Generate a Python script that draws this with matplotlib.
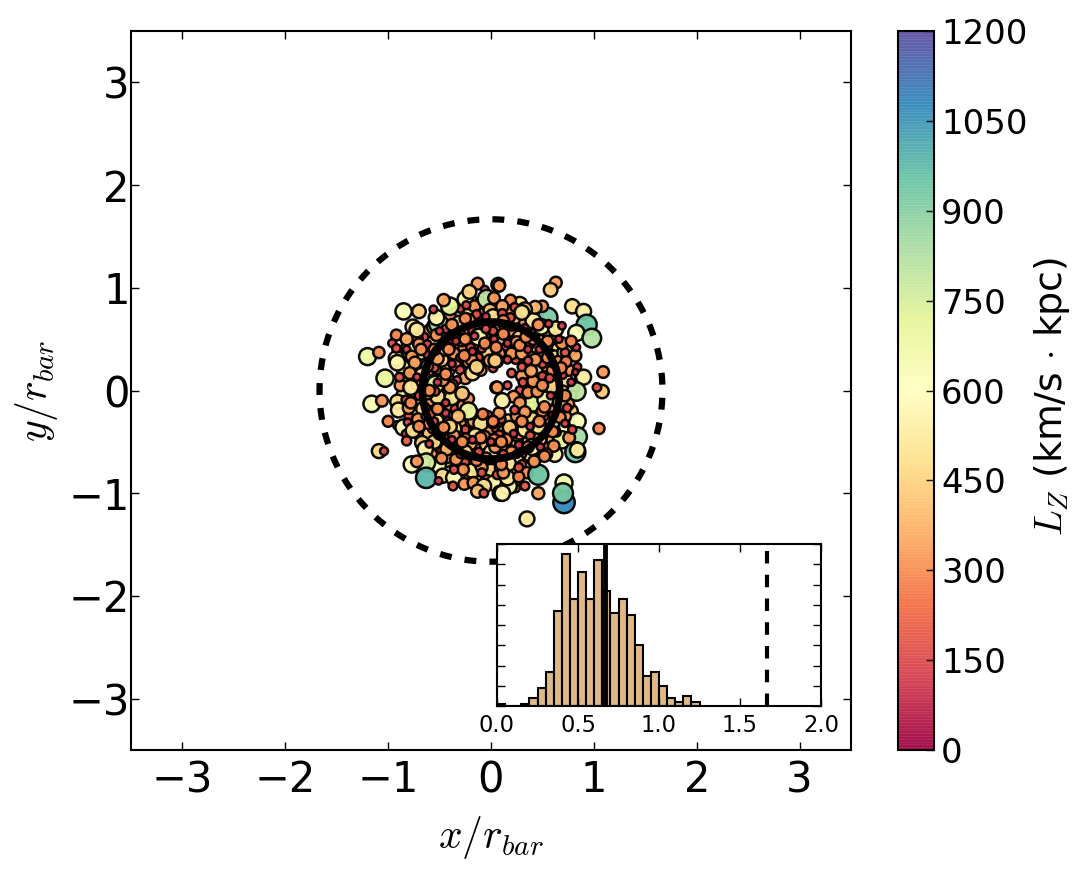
import numpy as np
import matplotlib
matplotlib.use('Agg')
from matplotlib import pyplot as plt

plt.rcParams['font.family'] = 'DejaVu Sans'
plt.rcParams['mathtext.fontset'] = 'cm'

# orbit positions in units of the bar radius, with angular momentum
x_pos = [
    -0.61, -0.43, -0.58, -0.52, -0.46, -0.40, -0.33, -0.26, -0.20, -0.12,
    -0.05, 0.03, 0.10, 0.17, 0.24, 0.30, 0.38, 0.44, 0.52, 0.57,
    0.60, 0.64, 0.68, 0.64, 0.70, 0.66, 0.62, 0.68, 0.62, 0.58,
    0.50, 0.44, 0.36, 0.30, 0.22, 0.16, 0.10, 0.04, -0.04, -0.10,
    -0.16, -0.20, -0.28, -0.35, -0.42, -0.48, -0.54, -0.60, -0.56, -0.64,
    -0.66, -0.68, -0.62, -0.56, -0.60, -0.52, -0.46, -0.38, -0.30, -0.20,
    -0.10, 0.00, 0.10, 0.18, 0.26, 0.34, 0.42, 0.48, 0.54, 0.56,
    0.52, 0.50, 0.46, 0.36, 0.26, 0.14, 0.04, -0.06, -0.20, -0.30,
    -0.45, -0.50, -0.46, -0.42, -0.30, -0.72, -0.74, -0.72, -0.64, -0.55,
    -0.45, -0.34, -0.12, 0.06, 0.16, 0.34, 0.44, 0.60, 0.70, 0.76,
    0.80, 0.78, 0.74, 0.68, 0.60, 0.50, 0.40, -0.02, -0.20, -0.30,
    -0.35, -0.30, -0.27, -0.20, -0.10, -0.05, 0.05, 0.08, 0.14, 0.18,
    0.24, 0.28, 0.33, 0.37, 0.42, 0.47, 0.50, 0.36, 0.28, 0.22,
    0.13, 0.07, -0.02, -0.07, -0.15, -0.22, -0.32, -0.42, -0.48, -0.57,
    -0.60, -0.65, -0.60, -0.68, -0.55, -0.62, -0.67, -0.62, -0.72, -0.58,
    -0.70, -0.60, -0.66, -0.57, -0.60, -0.53, -0.50, -0.45, -0.48, -0.42,
    -0.35, -0.30, -0.22, -0.25, -0.18, -0.33, -0.40, -0.35, -0.27, -0.30,
    -0.25, -0.17, -0.13, -0.08, -0.02, 0.05, 0.12, 0.17, 0.24, 0.28,
    0.33, 0.36, 0.42, 0.47, 0.52, 0.55, 0.60, 0.52, 0.45, 0.40,
    0.57, 0.62, 0.56, 0.62, 0.55, 0.48, 0.43, 0.60, 0.66, 0.72,
    0.75, 0.70, 0.78, 0.74, 0.69, 0.62, 0.55, 0.47, 0.38, 0.30,
    0.24, 0.20, 0.12, 0.06, 0.00, -0.05, -0.12, -0.18, -0.25, -0.32,
    -0.40, -0.48, -0.55, -0.50, -0.58, -0.44, -0.25, -0.18, -0.10, 0.00,
    0.08, 0.15, 0.22, 0.30, 0.35, -0.04, 0.03, 0.06, 0.20, 0.24,
    -0.70, -0.74, -0.80, -0.85, -0.78, -0.85, -0.88, -0.76, -0.80, -0.72,
    -0.55, -0.40, -0.30, -0.20, -0.10, 0.08, 0.18, 0.28, 0.38, 0.46,
    0.55, 0.62, 0.66, 0.58, 0.50, 0.62, 0.72, 0.78, 0.34, 0.26,
    0.14, 0.08, -0.05, -0.12, -0.26, -0.48, -0.38, -0.30, -0.22, -0.42,
    0.24, 0.30, 0.37, 0.28, 0.33, 0.22, 0.25, 0.10, 0.08, -0.10,
    0.40, 0.52, 0.46, -0.03, -0.18, -0.36, -0.52, -0.55, -0.10, 0.02,
    -0.85, -0.70, -0.51, -0.40, -0.53, -1.20, -1.09, -0.92, -0.76, -0.72,
    -0.92, -0.82, -0.96, -0.92, -0.82, -0.70, -0.77, -0.74, -0.53, -0.62,
    -0.46, -0.56, -0.44, -0.13, -0.25, -0.21, -0.06, 0.07, -0.16, -0.24,
    -0.04, 0.03, -0.01, -0.14, 0.02, -0.22, -0.31, -0.38, -0.18, -0.12,
    -0.28, -0.38, -0.45, -0.36, -0.52, -0.19, -0.30, -0.09, -0.14, -0.01,
    0.05, 0.02, 0.08, 0.63, 0.58, 0.79, 0.90, 0.93, 0.83, 0.98,
    0.55, 0.41, 0.49, 0.63, 0.50, 0.43, 0.33, 0.19, 0.23, 0.11,
    0.30, 0.19, 0.11, 0.56, 0.69, 0.72, 0.72, 0.82, 0.84, 0.83,
    0.69, 0.78, 0.55, 0.65, 0.73, 0.25, 0.20, 0.30, 0.04, 0.45,
    0.38, 0.50, 0.43, 0.36, -1.16, -1.06, -1.03, -0.91, -0.89, -0.79,
    -0.78, -0.91, -0.90, -0.83, -0.80, -1.00, -0.91, -0.85, -0.81, -0.71,
    -0.83, -0.76, -0.82, -1.09, -1.04, -0.67, -0.64, -0.77, -0.52, -0.63,
    -0.63, -0.72, -0.47, -0.36, -0.37, -0.26, -0.17, -0.07, -0.13, -0.07,
    0.09, -0.51, -0.43, -0.27, -0.36, -0.09, -0.09, -0.62, -0.54, -0.38,
    -0.54, -0.40, -0.47, -0.28, -0.22, -0.08, -0.15, 0.05, 0.02, -0.25,
    -0.45, -0.36, -0.32, -0.40, -0.59, -0.43, -0.34, 1.09, 0.90, 0.84,
    0.82, 0.83, 1.08, 1.03, 1.05, 0.84, 0.84, 0.82, 0.84, 0.46,
    0.46, 0.71, 0.71, 0.70, 0.35, 0.17, 0.16, 0.33, 0.27, 0.11,
    0.41, 0.11, 0.06, 0.16, 0.46, 0.59, 0.53, 0.61, 0.76, 0.79,
    0.75, 0.72, 0.54, 0.42, 0.17, 0.12, 0.27, 0.18, 0.04, 0.28,
    0.36, 0.45, 0.33, 0.41, 0.31, 0.23, 0.20, 0.30, 0.39, 0.50,
    0.02, 0.08, 0.15, 0.27, 0.38, -0.06, 0.03, 0.50, 0.67, 0.67,
    0.64, 0.40, 0.52, 0.74, 0.57, 0.70, -0.05, -0.20, 0.16, -0.44,
    -0.62, -0.55, -0.48, -0.41, -0.34, -0.25, -0.16, -0.06, 0.03, 0.12,
    0.20, 0.28, 0.36, 0.41, 0.47, 0.55, 0.60, 0.50, 0.58, 0.52,
    0.60, 0.47, 0.38, 0.30, 0.22, 0.10, 0.00, -0.10, -0.18, -0.28,
    -0.38, -0.46, -0.55, -0.52, -0.44, -0.60, -0.52, -0.44, -0.38, -0.26,
    -0.18, 0.05, 0.16, 0.34, -0.64, -0.70, -0.60, -0.48, -0.30, -0.14,
    0.00, 0.10, 0.25, 0.36, 0.48, 0.60, 0.72, 0.72, 0.78, 0.68,
    0.66, 0.46, 0.33, 0.12, -0.05, -0.25, -0.50, -0.68, -0.72, -0.78,
]
y_pos = [
    -0.02, -0.40, 0.42, 0.44, 0.50, 0.58, 0.60, 0.56, 0.62, 0.60,
    0.56, 0.54, 0.56, 0.52, 0.58, 0.56, 0.54, 0.48, 0.53, 0.44,
    0.40, 0.34, 0.24, 0.16, 0.05, -0.06, -0.18, -0.20, -0.28, -0.38,
    -0.46, -0.52, -0.50, -0.56, -0.54, -0.58, -0.55, -0.62, -0.56, -0.52,
    -0.56, -0.52, -0.55, -0.50, -0.48, -0.50, -0.42, -0.42, -0.36, -0.30,
    -0.08, 0.00, 0.12, 0.14, 0.20, 0.22, 0.30, 0.36, 0.42, 0.36,
    0.36, 0.40, 0.42, 0.40, 0.42, 0.34, 0.36, 0.28, 0.24, 0.08,
    -0.05, -0.14, -0.28, -0.38, -0.44, -0.46, -0.42, -0.38, -0.42, -0.44,
    -0.42, -0.24, -0.05, 0.10, 0.30, -0.12, 0.20, 0.35, 0.42, 0.55,
    0.68, 0.66, 0.76, 0.70, 0.62, 0.72, 0.62, 0.52, 0.36, 0.12,
    0.03, -0.20, -0.28, -0.38, -0.48, -0.56, -0.66, -0.72, -0.84, -0.66,
    0.75, 0.72, 0.62, 0.75, 0.68, 0.64, 0.66, 0.60, 0.66, 0.58,
    0.68, 0.62, 0.66, 0.58, 0.56, 0.52, 0.47, 0.50, 0.52, 0.46,
    0.50, 0.48, 0.48, 0.53, 0.47, 0.55, 0.54, 0.50, 0.54, 0.47,
    0.58, 0.52, 0.38, 0.37, 0.22, 0.24, 0.15, 0.06, 0.06, 0.00,
    -0.05, -0.10, -0.18, -0.22, -0.32, -0.30, -0.15, -0.08, 0.12, 0.20,
    0.25, 0.20, 0.28, 0.12, 0.17, 0.10, -0.15, -0.18, -0.15, -0.32,
    -0.38, -0.30, -0.36, -0.42, -0.38, -0.37, -0.40, -0.30, -0.35, -0.42,
    -0.38, -0.30, -0.42, -0.48, -0.42, -0.33, -0.30, -0.25, -0.20, -0.28,
    -0.18, -0.10, 0.00, 0.08, 0.15, 0.07, 0.18, 0.20, 0.02, 0.10,
    0.20, -0.02, -0.05, -0.35, -0.48, -0.62, -0.55, -0.62, -0.62, -0.62,
    -0.68, -0.60, -0.62, -0.68, -0.60, -0.66, -0.60, -0.66, -0.60, -0.55,
    -0.62, -0.58, -0.50, -0.42, -0.62, -0.68, -0.70, -0.78, -0.72, -0.78,
    -0.75, -0.78, -0.76, -0.72, -0.80, -0.88, -0.90, -0.82, -0.90, -0.95,
    -0.45, -0.30, -0.25, -0.05, 0.12, 0.22, 0.05, 0.28, 0.42, 0.50,
    0.62, 0.72, 0.80, 0.86, 0.85, 0.78, 0.76, 0.84, 0.74, 0.72,
    0.58, 0.50, 0.40, 0.36, 0.35, 0.32, 0.30, 0.38, 0.40, 0.36,
    0.42, 0.36, 0.38, 0.32, 0.42, 0.30, 0.05, -0.05, -0.08, -0.30,
    0.30, 0.14, 0.05, 0.00, -0.08, -0.06, -0.25, -0.28, -0.22, -0.32,
    -0.05, 0.05, -0.10, -0.24, -0.22, -0.37, -0.06, 0.32, 0.20, 0.22,
    0.77, 0.77, 0.65, 0.82, 0.71, 0.33, 0.37, 0.31, 0.62, 0.59,
    0.54, 0.50, 0.46, 0.41, 0.40, 0.45, 0.33, 0.27, 0.54, 0.45,
    0.88, 0.79, 0.60, 1.04, 0.89, 0.96, 0.98, 1.03, 0.82, 0.83,
    0.89, 0.90, 0.78, 0.74, 0.72, 0.68, 0.66, 0.64, 0.58, 0.52,
    0.49, 0.46, 0.41, 0.36, 0.31, 0.30, 0.32, 0.41, 0.23, 0.29,
    0.29, 0.58, 1.02, 1.05, 0.98, 0.82, 0.77, 0.64, 0.56, 0.51,
    0.71, 0.68, 0.62, 0.60, 0.82, 0.81, 0.79, 0.88, 0.81, 0.82,
    0.76, 0.71, 0.75, 0.65, 0.63, 0.37, 0.37, 0.34, 0.23, 0.42,
    0.46, 0.48, 0.48, 0.28, 0.28, 0.47, 0.36, 0.36, 0.29, 0.43,
    0.45, 0.26, 0.30, 0.29, -0.13, -0.10, 0.12, 0.27, 0.13, 0.17,
    0.03, -0.11, -0.19, -0.09, -0.17, -0.30, -0.34, -0.36, -0.31, -0.28,
    -0.42, -0.39, -0.49, -0.59, -0.59, -0.51, -0.57, -0.72, -0.73, -0.70,
    -0.85, -0.69, -0.83, -0.85, -0.93, -0.91, -0.90, -0.93, -0.98, -1.00,
    -1.00, -0.88, -0.65, -0.77, -0.77, -0.75, -0.80, -0.03, 0.06, -0.07,
    -0.01, 0.03, 0.10, -0.03, -0.20, -0.23, -0.44, 0.03, -0.31, -0.47,
    -0.38, -0.44, -0.25, -0.35, -0.23, -0.57, -0.67, 0.18, 0.13, 0.23,
    0.18, -0.01, -0.01, 0.03, -0.37, -0.30, -0.45, -0.60, -0.58, -0.82,
    -1.00, -0.90, -1.09, -1.00, -1.25, -0.93, -0.85, -0.93, -0.84, -1.00,
    -0.12, -0.10, 0.03, 0.05, -0.35, 0.04, -0.09, -0.54, -0.46, -0.38,
    -0.13, -0.25, -0.62, -0.69, -0.71, -0.80, -0.75, -0.36, -0.55, -0.12,
    -0.02, -0.01, -0.21, 0.09, 0.08, -0.19, 0.17, 0.23, 0.19, 0.14,
    -0.30, -0.43, -0.48, -0.53, -0.44, -0.45, -0.48, -0.20, -0.12, -0.26,
    -0.41, -0.55, -0.64, -0.17, 0.12, 0.15, 0.60, 0.42, 0.30, -0.22,
    0.35, 0.40, 0.44, 0.40, 0.48, 0.50, 0.53, 0.46, 0.50, 0.55,
    0.62, 0.44, 0.40, 0.50, 0.40, 0.32, 0.26, 0.05, -0.05, -0.16,
    -0.24, -0.30, -0.35, -0.30, -0.42, -0.50, -0.50, -0.46, -0.48, -0.50,
    -0.48, -0.36, -0.30, -0.18, -0.12, 0.00, 0.08, 0.16, 0.26, 0.34,
    0.38, 0.42, 0.46, 0.52, -0.25, -0.35, -0.52, -0.66, -0.62, -0.68,
    -0.68, -0.72, -0.62, -0.55, -0.55, -0.40, -0.32, -0.05, 0.08, 0.22,
    0.50, 0.64, 0.61, 0.68, 0.72, 0.70, 0.58, 0.40, 0.13, -0.12,
]
lz = [
    950, 850, 400, 330, 420, 300, 400, 330, 360, 320,
    360, 320, 400, 320, 420, 320, 400, 330, 360, 320,
    400, 330, 360, 320, 330, 400, 330, 360, 320, 400,
    320, 400, 330, 360, 320, 400, 330, 360, 320, 400,
    330, 360, 320, 400, 330, 360, 320, 400, 330, 360,
    320, 400, 320, 400, 320, 360, 320, 400, 330, 360,
    320, 400, 320, 360, 330, 400, 320, 360, 330, 400,
    320, 360, 320, 400, 330, 360, 330, 400, 320, 360,
    320, 400, 330, 400, 320, 400, 360, 300, 360, 320,
    400, 320, 360, 320, 360, 420, 330, 360, 420, 360,
    320, 400, 330, 480, 360, 400, 330, 360, 320, 360,
    300, 450, 180, 520, 320, 450, 180, 330, 520, 320,
    400, 170, 320, 450, 170, 320, 500, 320, 450, 170,
    320, 420, 170, 320, 350, 320, 480, 330, 150, 450,
    350, 170, 320, 480, 170, 320, 500, 150, 320, 450,
    170, 320, 450, 160, 320, 500, 320, 170, 170, 450,
    320, 170, 320, 330, 500, 150, 320, 170, 320, 320,
    170, 320, 170, 450, 320, 170, 320, 450, 170, 320,
    520, 170, 320, 450, 170, 320, 500, 170, 320, 480,
    320, 170, 320, 450, 170, 320, 500, 320, 150, 500,
    320, 450, 300, 600, 700, 550, 180, 320, 500, 170,
    550, 320, 170, 320, 500, 320, 170, 320, 450, 170,
    320, 170, 450, 320, 300, 450, 170, 500, 320, 450,
    170, 520, 320, 170, 300, 320, 560, 180, 700, 170,
    170, 320, 170, 480, 170, 500, 320, 170, 500, 320,
    520, 330, 170, 480, 320, 450, 320, 500, 320, 170,
    450, 320, 500, 170, 320, 480, 320, 170, 170, 450,
    170, 320, 450, 170, 320, 450, 320, 170, 300, 170,
    170, 320, 150, 170, 320, 320, 320, 170, 320, 500,
    450, 170, 170, 170, 320, 500, 500, 170, 320, 170,
    620, 430, 850, 720, 560, 680, 300, 550, 500, 520,
    280, 350, 150, 170, 130, 320, 330, 350, 330, 150,
    350, 140, 170, 330, 560, 450, 150, 440, 320, 150,
    800, 320, 400, 180, 500, 430, 450, 320, 160, 650,
    350, 160, 500, 320, 350, 320, 150, 160, 460, 350,
    450, 170, 320, 330, 440, 480, 530, 950, 620, 820,
    920, 550, 560, 520, 300, 380, 450, 280, 170, 350,
    500, 180, 180, 130, 130, 550, 170, 340, 100, 130,
    330, 280, 300, 310, 280, 330, 320, 340, 420, 450,
    180, 170, 330, 160, 640, 320, 700, 560, 180, 330,
    520, 480, 520, 160, 330, 280, 170, 620, 140, 330,
    130, 480, 200, 460, 150, 450, 560, 620, 650, 760,
    980, 320, 470, 580, 180, 320, 330, 500, 400, 170,
    540, 130, 330, 300, 170, 320, 170, 320, 680, 500,
    160, 330, 330, 430, 690, 280, 500, 320, 330, 280,
    320, 320, 400, 450, 200, 380, 320, 320, 530, 140,
    90, 800, 420, 170, 290, 640, 850, 950, 520, 950,
    340, 680, 1080, 930, 520, 640, 520, 180, 280, 560,
    700, 540, 320, 150, 500, 450, 620, 310, 320, 160,
    330, 330, 300, 320, 510, 320, 180, 420, 320, 320,
    300, 320, 320, 330, 170, 170, 170, 170, 340, 170,
    280, 170, 310, 140, 180, 300, 310, 300, 480, 300,
    140, 600, 300, 170, 170, 130, 170, 170, 140, 140,
    130, 300, 130, 300, 130, 300, 130, 300, 130, 300,
    130, 300, 130, 300, 130, 300, 130, 300, 130, 300,
    130, 300, 130, 300, 130, 300, 130, 300, 130, 300,
    130, 300, 130, 300, 130, 300, 130, 300, 130, 300,
    130, 300, 130, 300, 130, 300, 130, 300, 130, 300,
    130, 300, 130, 300, 130, 300, 130, 300, 130, 300,
    130, 300, 130, 300, 130, 300, 130, 300, 130, 300,
]

# radial histogram of the same orbits
hist_edges = [0.00, 0.05, 0.10, 0.15, 0.20, 0.25, 0.30, 0.35, 0.40, 0.45, 0.50, 0.55,
              0.60, 0.65, 0.70, 0.75, 0.80, 0.85, 0.90, 0.95, 1.00, 1.05, 1.10, 1.15, 1.20, 1.25]
hist_counts = [1, 0, 0, 1, 4, 9, 17, 47, 75, 53, 66, 53,
               72, 57, 46, 53, 45, 30, 15, 17, 10, 4, 2, 5, 2]

r_solid = 0.667
r_dashed = 1.667
main_ticks = [-3, -2, -1, 0, 1, 2, 3]
cbar_ticks = [0, 150, 300, 450, 600, 750, 900, 1050, 1200]

W, H = 1087, 869
fig = plt.figure(figsize=(W / 100, H / 100), dpi=100)

ax = fig.add_axes([131 / W, 1 - 750 / H, 720 / W, 719 / H])
sc = ax.scatter(x_pos, y_pos, c=lz, s=[v * 0.22 for v in lz], cmap='Spectral',
                vmin=0, vmax=1200, alpha=0.95, edgecolors='black', linewidths=1.8, zorder=2)
ax.add_patch(plt.Circle((0, 0), r_solid, fill=False, ec='black', lw=5.5, zorder=3))
ax.add_patch(plt.Circle((0, 0), r_dashed, fill=False, ec='black', lw=4.5,
                        linestyle=(0, (1.9, 2.1)), zorder=3))
ax.set_xlim(-3.5, 3.5)
ax.set_ylim(-3.5, 3.5)
ax.set_xticks(main_ticks)
ax.set_yticks(main_ticks)
ax.tick_params(direction='in', length=6, width=1, top=True, right=True, labelsize=30)
ax.tick_params(axis='x', pad=6.5)
ax.tick_params(axis='y', pad=1)
ax.set_xlabel(r'$x/r_{bar}$', fontsize=30, labelpad=9.5)
ax.set_ylabel(r'$y/r_{bar}$', fontsize=30, labelpad=5.7)
for spine in ax.spines.values():
    spine.set_linewidth(1.5)

# inset with the radial distribution
ins = fig.add_axes([497 / W, 1 - 706 / H, 324 / W, 162 / H])
ins.bar(hist_edges[:-1], hist_counts, width=0.05, align='edge', color='burlywood',
        edgecolor='black', linewidth=1.5)
ins.axvline(r_solid, color='black', lw=3.5)
ins.axvline(r_dashed, color='black', lw=3, linestyle=(0, (3, 2.7)))
ins.set_xlim(0, 2)
ins.set_ylim(0, 80)
ins.set_xticks([0.0, 0.5, 1.0, 1.5, 2.0])
ins.set_yticks(range(0, 81, 10))
ins.set_yticklabels([])
ins.tick_params(direction='in', length=5.5, width=1, top=True, right=True, labelsize=16.3, pad=6)
for spine in ins.spines.values():
    spine.set_linewidth(1.5)

cax = fig.add_axes([898 / W, 1 - 750 / H, 36 / W, 719 / H])
cb = fig.colorbar(sc, cax=cax, ticks=cbar_ticks)
# pale seams between the 256 colour levels
cax.hlines(np.linspace(0, 1200, 257), 0, 1, color='white', alpha=0.12, lw=0.5, zorder=2)
cb.outline.set_linewidth(1.5)
cax.tick_params(direction='in', length=6, width=1, labelsize=24.4, pad=5)
cb.set_label(r'$L_Z$ (km/s $\cdot$ kpc)', fontsize=27.3, labelpad=3, y=0.492)

fig.savefig('out.png', dpi=100)
